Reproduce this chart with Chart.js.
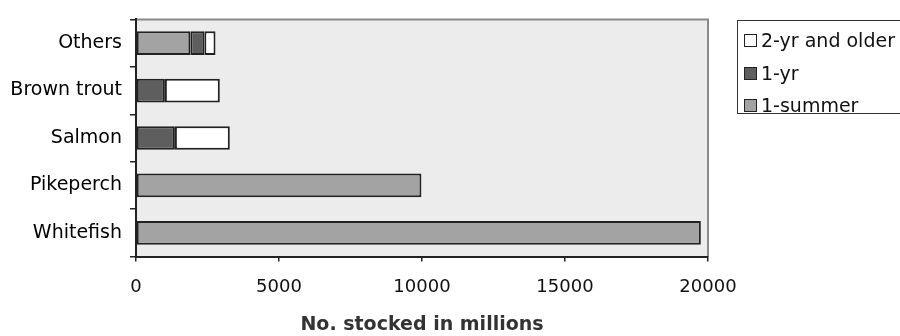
<!DOCTYPE html>
<html>
<head>
<meta charset="utf-8">
<script src="https://cdn.jsdelivr.net/npm/chart.js@4.4.0/dist/chart.umd.min.js"></script>
<style>
  html, body { margin: 0; padding: 0; background: #fff; }
  #wrap { position: relative; width: 900px; height: 336px; }
  #legend {
    position: absolute; left: 737px; top: 20px; width: 175px; height: 94px;
    border: 1.5px solid #333; box-sizing: border-box; background: #fff;
    font-family: "DejaVu Sans", sans-serif; font-size: 19px; color: #111;
  }
  .item { position: absolute; left: 6px; height: 22px; line-height: 22px; white-space: nowrap; }
  .sw { display: inline-block; width: 11px; height: 11px; border: 1.5px solid #222; vertical-align: 0px; margin-right: 4px; }
</style>
</head>
<body>
<div id="wrap">
  <canvas id="c" width="900" height="336"></canvas>
  <div id="legend"></div>
</div>
<script>
const categories = ['Others', 'Brown trout', 'Salmon', 'Pikeperch', 'Whitefish'];
const seriesNames = ['1-summer', '1-yr', '2-yr and older'];
const oneSummer = [1900, null, null, 9980, 19750];
const oneYr = [490, 1010, 1360, null, null];
const twoYrOlder = [390, 1920, 1920, null, null];
const xTicks = [0, 5000, 10000, 15000, 20000];

const colors = ['#a3a3a3', '#5e5e5e', '#ffffff'];
const values = [oneSummer, oneYr, twoYrOlder];

const bgPlugin = {
  id: 'bg',
  beforeDraw(chart) {
    const { ctx, chartArea: a } = chart;
    ctx.save();
    ctx.fillStyle = '#ececec';
    ctx.fillRect(a.left, a.top, a.right - a.left, a.bottom - a.top);
    ctx.strokeStyle = '#8a8a8a';
    ctx.lineWidth = 2;
    ctx.beginPath();
    ctx.moveTo(a.left, a.top);
    ctx.lineTo(a.right, a.top);
    ctx.lineTo(a.right, a.bottom);
    ctx.stroke();
    ctx.restore();
  }
};

new Chart(document.getElementById('c'), {
  type: 'bar',
  data: {
    labels: categories,
    datasets: seriesNames.map((n, i) => ({
      label: n,
      data: values[i],
      backgroundColor: colors[i],
      borderColor: '#222',
      borderWidth: 2,
      borderSkipped: false,
      barPercentage: 1,
      categoryPercentage: 0.5
    }))
  },
  options: {
    indexAxis: 'y',
    responsive: false,
    animation: false,
    layout: { padding: { top: 15, right: 192, left: 0, bottom: 0 } },
    plugins: { legend: { display: false }, tooltip: { enabled: false } },
    scales: {
      x: {
        stacked: true,
        min: 0, max: 20000,
        afterBuildTicks(axis) { axis.ticks = xTicks.map(v => ({ value: v })); },
        grid: { drawOnChartArea: false, tickLength: 5, color: '#222', lineWidth: 1.5 },
        border: { color: '#222', width: 2 },
        ticks: { font: { family: 'DejaVu Sans', size: 18 }, color: '#111', padding: 15, maxRotation: 0,
                 callback: (v) => String(v) },
        title: { display: true, text: 'No. stocked in millions',
                 font: { family: 'DejaVu Sans', size: 19, weight: 'bold' }, color: '#333',
                 padding: { top: 0, bottom: 0 } }
      },
      y: {
        stacked: true,
        afterFit(axis) { axis.width = 136; },
        grid: { drawOnChartArea: false, tickLength: 6, color: '#222', lineWidth: 1.5 },
        border: { color: '#222', width: 2, dash: [2, 1] },
        ticks: { font: { family: 'DejaVu Sans', size: 19 }, color: '#000', padding: 8 }
      }
    }
  },
  plugins: [bgPlugin]
});

const lg = document.getElementById('legend');
const legendOrder = [2, 1, 0];
legendOrder.forEach((idx, row) => {
  const d = document.createElement('div');
  d.className = 'item';
  d.style.top = (8 + row * 32.5) + 'px';
  const s = document.createElement('span');
  s.className = 'sw';
  s.style.background = colors[idx];
  d.appendChild(s);
  d.appendChild(document.createTextNode(seriesNames[idx]));
  lg.appendChild(d);
});
</script>
</body>
</html>
